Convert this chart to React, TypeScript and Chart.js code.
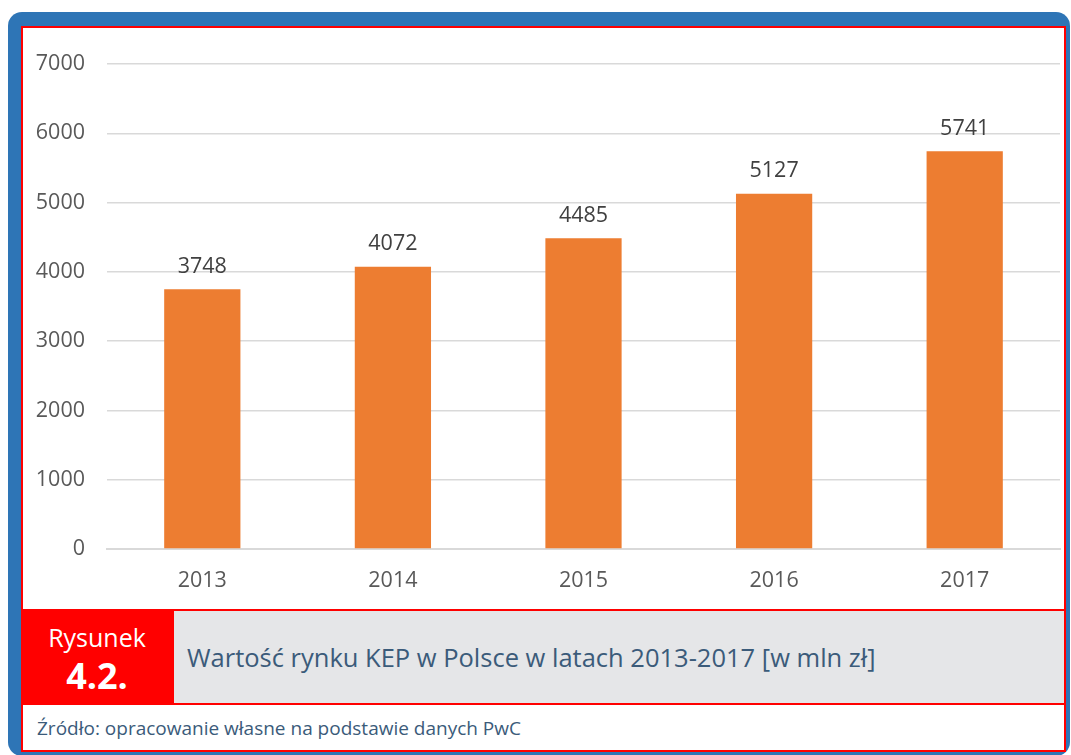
import React, { useEffect, useRef } from "react";
import { Chart, registerables } from "chart.js";

Chart.register(...registerables);

const years = ["2013", "2014", "2015", "2016", "2017"];
const values = [3748, 4072, 4485, 5127, 5741];
const yTicks = [0, 1000, 2000, 3000, 4000, 5000, 6000, 7000];
const figureLabel = "Rysunek";
const figureNumber = "4.2.";
const captionText = "Wartość rynku KEP w Polsce w latach 2013-2017 [w mln zł]";
const sourceText = "Źródło: opracowanie własne na podstawie danych PwC";

const FONT = "'Open Sans', 'DejaVu Sans', sans-serif";

const valueLabels = {
  id: "valueLabels",
  afterDatasetsDraw(chart: any) {
    const ctx = chart.ctx;
    const meta = chart.getDatasetMeta(0);
    ctx.save();
    ctx.font = `21.5px ${FONT}`;
    ctx.fillStyle = "#404040";
    ctx.textAlign = "center";
    ctx.textBaseline = "bottom";
    meta.data.forEach((bar: any, i: number) => {
      ctx.fillText(String(values[i]), bar.x, bar.y - 12);
    });
    ctx.restore();
  },
};

function BarChart() {
  const ref = useRef<HTMLCanvasElement>(null);
  useEffect(() => {
    if (!ref.current) return;
    const chart = new Chart(ref.current, {
      type: "bar",
      data: {
        labels: years,
        datasets: [
          {
            data: values,
            backgroundColor: "#ED7D31",
            barPercentage: 0.4,
            categoryPercentage: 1,
          },
        ],
      },
      options: {
        animation: false,
        responsive: false,
        maintainAspectRatio: false,
        layout: { padding: { top: 36, right: 4, bottom: 0, left: 0 } },
        plugins: { legend: { display: false }, tooltip: { enabled: false } },
        scales: {
          x: {
            grid: { display: false, drawTicks: false },
            border: { color: "#d9d9d9", width: 2 },
            ticks: {
              color: "#595959",
              font: { family: FONT, size: 21.5 },
              padding: 19,
            },
            afterFit: (s: any) => {
              s.height = 59;
            },
          },
          y: {
            min: 0,
            max: 7000,
            afterBuildTicks: (s: any) => {
              s.ticks = yTicks.map((v) => ({ value: v }));
            },
            grid: { color: "#d9d9d9", lineWidth: 1.5, drawTicks: false },
            border: { display: false },
            ticks: {
              color: "#595959",
              font: { family: FONT, size: 21.5 },
              padding: 22,
              callback: (v: any) => String(v),
            },
            afterFit: (s: any) => {
              s.width = 84;
            },
          },
        },
      },
      plugins: [valueLabels],
    });
    return () => chart.destroy();
  }, []);
  return <canvas ref={ref} width={1041} height={580} style={{ display: "block" }} />;
}

export default function App() {
  return (
    <div style={{ position: "absolute", left: 0, top: 0, width: 1071, height: 755, overflow: "hidden", background: "#fff" }}>
      <div
        style={{
          position: "absolute",
          left: 8,
          top: 12,
          width: 1062,
          height: 744,
          background: "#2E75B6",
          borderRadius: 14,
        }}
      />
      <div
        style={{
          position: "absolute",
          left: 21,
          top: 26,
          width: 1045,
          height: 726,
          boxSizing: "border-box",
          border: "2px solid #FF0000",
          background: "#fff",
        }}
      >
        <BarChart />
      </div>
      {/* caption row */}
      <div
        style={{
          position: "absolute",
          left: 21,
          top: 609,
          width: 152,
          height: 96,
          background: "#FF0000",
          color: "#fff",
          fontFamily: FONT,
          textAlign: "center",
        }}
      >
        <div style={{ position: "absolute", left: 0, right: 0, top: 12, fontSize: 25, lineHeight: "32px" }}>{figureLabel}</div>
        <div style={{ position: "absolute", left: 0, right: 0, top: 46, fontSize: 36, fontWeight: 700, lineHeight: "42px" }}>{figureNumber}</div>
      </div>
      <div
        style={{
          position: "absolute",
          left: 172,
          top: 609,
          width: 894,
          height: 96,
          boxSizing: "border-box",
          border: "2px solid #FF0000",
          background: "#E5E6E8",
          color: "#3B5B7A",
          fontFamily: FONT,
          fontSize: 25.5,
          display: "flex",
          alignItems: "center",
          paddingLeft: 13,
        }}
      >
        {captionText}
      </div>
      <div
        style={{
          position: "absolute",
          left: 21,
          top: 703,
          width: 1045,
          height: 49,
          boxSizing: "border-box",
          border: "2px solid #FF0000",
          background: "#fff",
          color: "#3B5B7A",
          fontFamily: FONT,
          fontSize: 19,
          display: "flex",
          alignItems: "center",
          paddingLeft: 14,
        }}
      >
        {sourceText}
      </div>
    </div>
  );
}
